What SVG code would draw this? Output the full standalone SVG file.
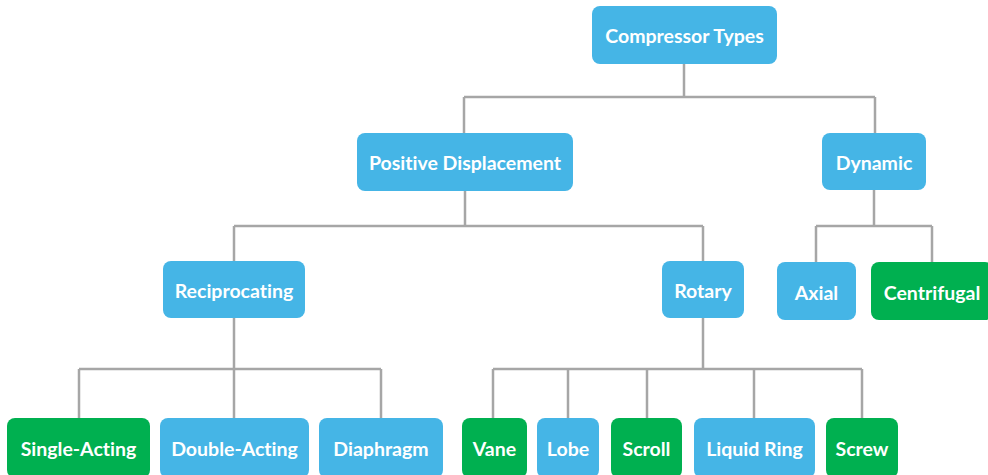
<svg xmlns="http://www.w3.org/2000/svg" width="988" height="475" viewBox="0 0 988 475">
<style>
.b{fill:#45B5E6}
.g{fill:#00B050}
.t{fill:#fff;font-family:Lato,"Open Sans","Liberation Sans",sans-serif;font-weight:700;font-size:19.5px;text-anchor:middle;dominant-baseline:central;font-variant-ligatures:none}
.c{fill:none;stroke:#A6A6A6;stroke-width:2.5}
</style>
<rect width="988" height="475" fill="#fff"/>
<g id="connectors" class="c">
<path d="M684 64V97M464 97H875M464 97V133M875 97V133"/>
<path d="M465 191V226M234 226H703M234 226V261M703 226V261"/>
<path d="M874 190V226M816 226H932M816 226V262M932 226V262"/>
<path d="M234 318V369M79 369H381M79 369V418M234 369V418M381 369V418"/>
<path d="M703 318V369M493 369H862M493 369V418M568 369V418M647 369V418M754 369V418M862 369V418"/>
</g>
<g id="n-compressor"><rect class="b" x="592" y="6" width="185" height="58" rx="8"/><text class="t" x="684.5" y="35">Compressor Types</text></g>
<g id="n-positive"><rect class="b" x="357" y="133" width="216" height="58" rx="8"/><text class="t" x="465" y="162">Positive Displacement</text></g>
<g id="n-dynamic"><rect class="b" x="822" y="133" width="104" height="57" rx="8"/><text class="t" x="874" y="162">Dynamic</text></g>
<g id="n-reciprocating"><rect class="b" x="163" y="261" width="142" height="57" rx="8"/><text class="t" x="234" y="290">Reciprocating</text></g>
<g id="n-rotary"><rect class="b" x="662" y="261" width="82" height="57" rx="8"/><text class="t" x="703" y="290">Rotary</text></g>
<g id="n-axial"><rect class="b" x="777" y="262" width="79" height="58" rx="8"/><text class="t" x="816.5" y="292">Axial</text></g>
<g id="n-centrifugal"><rect class="g" x="871" y="262" width="122" height="58" rx="8"/><text class="t" x="932" y="292">Centrifugal</text></g>
<g id="n-single"><rect class="g" x="7" y="418" width="143" height="60" rx="8"/><text class="t" x="78.5" y="448">Single-Acting</text></g>
<g id="n-double"><rect class="b" x="160" y="418" width="149" height="60" rx="8"/><text class="t" x="234.5" y="448">Double-Acting</text></g>
<g id="n-diaphragm"><rect class="b" x="319" y="418" width="124" height="60" rx="8"/><text class="t" x="381" y="448">Diaphragm</text></g>
<g id="n-vane"><rect class="g" x="462" y="418" width="65" height="60" rx="8"/><text class="t" x="494.5" y="448">Vane</text></g>
<g id="n-lobe"><rect class="b" x="537" y="418" width="62" height="60" rx="8"/><text class="t" x="568" y="448">Lobe</text></g>
<g id="n-scroll"><rect class="g" x="611" y="418" width="71" height="60" rx="8"/><text class="t" x="646.5" y="448">Scroll</text></g>
<g id="n-liquid"><rect class="b" x="694" y="418" width="121" height="60" rx="8"/><text class="t" x="754.5" y="448">Liquid Ring</text></g>
<g id="n-screw"><rect class="g" x="826" y="418" width="72" height="60" rx="8"/><text class="t" x="862" y="448">Screw</text></g>
</svg>
